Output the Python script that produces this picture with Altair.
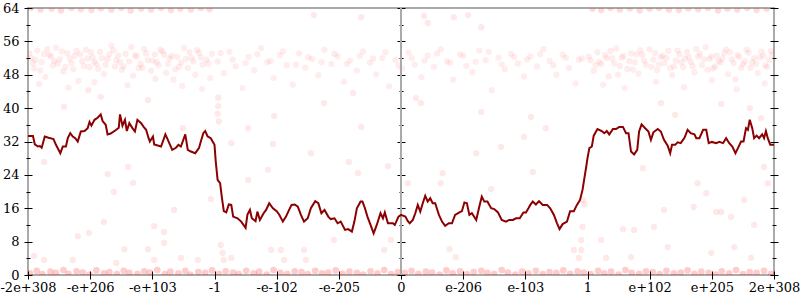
import json
import altair as alt
import pandas as pd

# ---------------- data ----------------
x_ticks = [-6, -5, -4, -3, -2, -1, 0, 1, 2, 3, 4, 5, 6]
x_labels = ["-2e+308", "-e+206", "-e+103", "-1", "-e-102", "-e-205", "0",
            "e-206", "e-103", "1", "e+102", "e+205", "2e+308"]
y_major = [0, 8, 16, 24, 32, 40, 48, 56, 64]
y_minor = [4, 12, 20, 28, 36, 44, 52, 60]

line_x = [-6.00,-5.92,-5.89,-5.84,-5.81,-5.78,-5.73,-5.67,-5.59,-5.55,-5.48,-5.44,-5.39,-5.36,-5.32,-5.28,-5.24,-5.20,-5.15,-5.09,
          -5.04,-5.01,-4.98,-4.93,-4.88,-4.83,-4.80,-4.75,-4.72,-4.67,-4.58,-4.54,-4.52,-4.48,-4.44,-4.41,-4.37,-4.32,-4.28,-4.24,
          -4.18,-4.14,-4.10,-4.06,-4.04,-3.99,-3.97,-3.86,-3.79,-3.75,-3.68,-3.62,-3.58,-3.54,-3.47,-3.43,-3.38,-3.31,-3.25,-3.22,
          -3.18,-3.15,-3.11,-3.06,-3.00,-2.98,-2.95,-2.91,-2.88,-2.85,-2.81,-2.77,-2.73,-2.70,-2.63,-2.57,-2.50,-2.47,-2.43,-2.40,
          -2.34,-2.31,-2.27,-2.21,-2.17,-2.12,-2.06,-2.00,-1.96,-1.90,-1.85,-1.80,-1.76,-1.71,-1.66,-1.61,-1.56,-1.50,-1.45,-1.38,
          -1.33,-1.28,-1.23,-1.17,-1.13,-1.07,-1.02,-0.97,-0.90,-0.85,-0.79,-0.75,-0.71,-0.65,-0.62,-0.58,-0.54,-0.49,-0.44,-0.39,
          -0.33,-0.29,-0.26,-0.21,-0.13,-0.10,-0.04,0.00,0.07,0.11,0.14,0.19,0.23,0.27,0.31,0.35,0.39,0.43,0.47,0.51,
          0.55,0.61,0.66,0.71,0.77,0.82,0.87,0.94,0.98,1.02,1.06,1.10,1.14,1.21,1.26,1.30,1.34,1.39,1.45,1.50,
          1.56,1.62,1.69,1.74,1.80,1.85,1.91,1.97,2.01,2.05,2.08,2.12,2.17,2.22,2.28,2.35,2.40,2.46,2.51,2.55,
          2.60,2.67,2.72,2.78,2.83,2.88,2.92,2.95,2.98,3.00,3.03,3.07,3.10,3.16,3.23,3.27,3.31,3.35,3.41,3.46,
          3.51,3.57,3.62,3.66,3.70,3.75,3.80,3.83,3.87,3.92,3.98,4.02,4.06,4.13,4.18,4.23,4.29,4.33,4.36,4.41,
          4.45,4.50,4.56,4.61,4.66,4.72,4.75,4.80,4.86,4.91,4.95,5.00,5.07,5.12,5.18,5.23,5.28,5.33,5.38,5.42,
          5.47,5.51,5.55,5.58,5.61,5.65,5.68,5.72,5.76,5.81,5.84,5.87,5.90,5.94,6.00]
line_y = [33.3,33.3,31.3,30.8,30.9,30.5,33.2,32.9,32.6,31.2,29.2,30.8,30.8,32.8,34.0,33.2,32.8,32.0,34.4,34.5,
          35.2,36.7,35.8,37.2,37.7,38.5,36.9,36.0,33.7,33.9,34.8,35.3,38.5,35.8,37.2,34.5,36.4,35.2,34.4,37.2,
          36.4,35.5,34.8,32.8,32.0,33.2,31.3,30.8,33.7,32.4,30.0,30.5,31.2,30.8,33.7,30.0,29.6,29.2,30.4,32.0,
          34.0,34.5,33.2,32.8,31.2,27.2,22.8,22.0,18.4,15.3,15.0,16.9,16.8,14.0,13.6,12.8,11.3,14.5,15.6,13.6,
          12.9,15.2,13.2,14.8,15.6,17.2,16.0,15.3,14.5,12.8,14.0,15.6,16.8,16.9,16.4,14.4,12.8,13.6,16.0,17.7,
          17.2,14.8,15.6,14.0,13.4,13.6,12.4,12.8,10.8,11.0,10.4,12.8,16.0,17.6,17.6,16.0,14.0,12.0,10.0,12.0,
          14.8,13.6,15.0,12.4,12.4,12.0,14.0,14.4,14.0,12.9,12.4,13.2,14.8,16.8,15.2,17.2,19.0,17.6,18.4,17.2,
          17.2,14.4,12.8,11.8,12.4,12.4,14.4,15.0,15.3,17.4,17.2,14.4,14.8,13.2,16.4,18.8,17.6,17.6,16.0,15.8,
          15.0,13.2,12.8,13.2,13.2,13.6,13.6,15.0,15.0,16.0,16.8,17.6,16.9,17.7,16.8,16.8,16.0,14.4,12.4,11.0,
          12.2,12.8,15.3,15.3,16.8,18.0,20.4,23.2,26.0,28.0,30.4,30.8,33.4,35.0,34.5,34.0,34.5,33.7,35.0,35.0,
          35.5,35.5,34.0,34.0,29.6,28.9,30.0,34.4,36.1,35.3,34.4,32.4,34.2,35.0,34.4,32.4,31.0,29.2,31.2,31.2,
          31.8,31.6,32.9,34.8,34.0,33.7,32.8,32.8,34.8,34.8,31.6,31.9,31.6,31.9,31.6,32.8,31.6,30.8,29.2,30.4,
          32.0,32.0,35.2,34.8,37.2,35.2,32.8,33.4,32.8,33.7,32.8,34.5,32.8,31.2,31.2]

# bottom band of error points (near 0 bits)
bot_x = [-5.97,-5.86,-5.77,-5.64,-5.55,-5.43,-5.35,-5.22,-5.12,-5.01,-4.90,-4.78,-4.69,-4.57,-4.46,-4.37,-4.24,-4.13,-4.04,-3.92,
         -3.80,-3.71,-3.58,-3.47,-3.39,-3.26,-3.15,-3.04,-2.93,-2.82,-2.70,-2.61,-2.49,-2.37,-2.28,-2.16,-2.05,-1.94,-1.83,-1.71,
         -1.60,-1.50,-1.38,-1.27,-1.17,-1.05,-0.94,-0.83,-0.71,-0.61,-0.49,-0.38,-0.27,-0.16,-0.05,0.06,0.17,0.28,0.40,0.50,
         0.62,0.73,0.83,0.95,1.06,1.17,1.29,1.39,1.50,1.62,1.72,1.84,1.95,2.05,2.17,2.28,2.39,2.50,2.61,2.72,
         2.84,2.94,3.05,3.17,3.27,3.38,3.50,3.61,3.71,3.83,3.94,4.05,4.16,4.27,4.39,4.50,4.61,4.72,4.83,4.95,
         5.06,5.16,5.28,5.39,5.50,5.61,5.72,5.84,5.95]
bot_y = [0.4,1.0,0.2,0.8,0.5,1.2,0.3,0.9,0.6,0.1,1.1,0.4,0.7,0.2,1.0,0.5,0.3,0.9,0.6,1.2,
         0.2,0.8,0.4,1.0,0.1,0.7,0.5,1.1,0.3,0.9,0.6,0.2,1.0,0.4,0.8,0.1,1.2,0.5,0.3,0.9,
         0.7,0.2,1.0,0.4,0.6,1.1,0.3,0.8,0.5,0.1,0.9,0.4,1.2,0.2,0.7,0.5,1.0,0.3,0.8,0.6,
         0.1,1.1,0.4,0.9,0.2,0.7,1.0,0.5,0.3,1.2,0.6,0.1,0.8,0.4,1.0,0.2,0.7,0.5,1.1,0.3,
         0.9,0.6,0.2,1.0,0.4,0.8,0.1,1.2,0.5,0.3,0.9,0.7,0.2,1.0,0.4,0.6,1.1,0.3,0.8,0.5,
         0.1,0.9,0.4,1.2,0.2,0.7,0.5,1.0,0.3]

# top band (64 bits) on the outer ranges
top_x = [-5.95,-5.80,-5.62,-5.47,-5.30,-5.15,-4.98,-4.83,-4.66,-4.50,-4.35,-4.18,-4.02,-3.86,-3.70,-3.55,-3.38,-3.22,-3.08,
         3.08,3.22,3.37,3.52,3.68,3.84,4.00,4.15,4.31,4.47,4.62,4.78,4.94,5.10,5.25,5.41,5.57,5.72,5.88]
top_y = [64.0,63.6,63.8,63.4,64.0,63.7,63.5,63.9,63.6,64.0,63.4,63.8,63.6,64.0,63.5,63.8,63.6,64.0,63.7,
         63.8,63.5,64.0,63.6,63.9,63.4,63.8,64.0,63.6,63.5,63.9,63.7,64.0,63.4,63.8,63.6,64.0,63.5,63.8]

# band around 52 bits
mid_x = [-5.95,-5.90,-5.85,-5.78,-5.72,-5.66,-5.60,-5.55,-5.49,-5.43,-5.37,-5.30,-5.25,-5.19,-5.13,-5.07,-5.01,-4.96,-4.90,-4.84,
         -4.78,-4.72,-4.66,-4.60,-4.55,-4.49,-4.43,-4.37,-4.31,-4.25,-4.19,-4.13,-4.07,-4.02,-3.96,-3.90,-3.84,-3.78,-3.72,-3.66,
         -3.60,-3.54,-3.49,-3.43,-3.37,-3.31,-3.25,-3.19,-3.13,-3.07,
         -5.92,-5.74,-5.58,-5.40,-5.22,-5.04,-4.87,-4.69,-4.52,-4.34,-4.16,-3.99,-3.81,-3.63,-3.46,-3.28,-3.10,-5.82,-5.35,-4.93,
         -4.40,-3.95,-3.52,-3.20,
         -5.98,-5.88,-5.80,-5.69,-5.63,-5.52,-5.46,-5.33,-5.27,-5.16,-5.10,-4.99,-4.93,-4.81,-4.75,-4.63,-4.58,-4.46,-4.28,-4.22,
         -4.10,-3.93,-3.87,-3.75,-3.69,-3.57,-3.40,-3.34,-3.22,-3.04,
         3.05,3.10,3.16,3.22,3.28,3.34,3.40,3.46,3.52,3.58,3.64,3.70,3.76,3.82,3.88,3.94,4.00,4.06,4.12,4.18,
         4.24,4.30,4.36,4.42,4.48,4.54,4.60,4.66,4.72,4.78,4.84,4.90,4.96,5.02,5.08,5.14,5.20,5.26,5.32,5.38,
         5.44,5.50,5.56,5.62,5.68,5.74,5.80,5.86,5.92,5.97,
         3.13,3.31,3.49,3.67,3.85,4.03,4.21,4.39,4.57,4.75,4.93,5.11,5.29,5.47,5.65,5.83,3.25,3.60,4.10,4.55,
         5.00,5.40,5.85,
         3.02,3.19,3.37,3.43,3.55,3.73,3.79,3.91,4.09,4.15,4.27,4.33,4.45,4.51,4.63,4.69,4.81,4.87,4.99,5.05,
         5.17,5.23,5.35,5.41,5.53,5.59,5.71,5.77,5.89,5.95,
         -2.95,-2.85,-2.76,-2.66,-2.55,-2.45,-2.36,-2.25,-2.15,-2.05,-1.95,-1.84,-1.74,-1.64,-1.54,-1.43,-1.33,-1.23,-1.12,-1.02,
         -0.92,-0.82,-0.71,-0.61,-0.50,-0.40,-0.30,-0.19,-0.09,0.02,0.12,0.22,0.33,0.43,0.53,0.64,0.74,0.84,0.95,1.05,
         1.15,1.26,1.36,1.46,1.57,1.67,1.77,1.88,1.98,2.08,2.19,2.29,2.39,2.50,2.60,2.70,2.81,2.91,
         -2.90,-2.71,-2.50,-2.31,-2.10,-1.90,-1.69,-1.49,-1.28,-1.07,-0.87,-0.66,-0.45,-0.25,-0.04,0.17,0.38,0.58,0.79,1.00,
         1.20,1.41,1.62,1.82,2.03,2.24,2.45,2.65,2.86]
mid_y = [52.0,49.5,53.8,51.0,47.5,52.8,50.2,54.5,51.7,48.8,53.2,50.8,52.5,46.5,51.3,54.0,49.8,52.2,50.5,53.5,
         48.2,51.8,55.0,50.0,52.6,49.2,53.0,51.2,47.8,52.4,50.6,54.2,51.5,49.0,52.9,50.3,53.6,48.5,51.9,46.8,
         52.3,50.9,54.4,49.6,52.1,48.0,53.3,50.4,51.6,47.2,
         50.8,53.0,51.3,49.9,53.7,51.9,49.4,52.9,51.0,54.6,49.7,51.4,52.8,49.3,51.8,53.9,50.7,45.8,44.9,46.2,
         45.5,47.0,45.3,44.6,
         53.1,51.6,49.0,54.2,52.4,50.7,53.6,51.9,49.3,52.9,50.1,53.4,51.1,52.0,50.4,53.9,51.5,50.0,52.7,49.6,
         53.1,51.0,54.0,50.6,52.5,49.9,53.4,51.2,52.2,53.0,
         51.5,48.9,53.4,50.6,52.7,47.6,51.9,54.3,50.1,52.5,49.4,53.1,51.0,48.3,52.8,50.4,54.1,51.6,49.1,52.2,
         50.8,53.7,47.9,51.4,52.9,49.8,53.5,51.1,48.6,52.4,50.3,54.6,51.8,49.5,52.6,50.9,53.2,48.1,51.7,46.9,
         52.3,50.5,54.0,49.7,52.0,48.4,53.6,50.2,51.5,52.8,
         50.3,52.0,48.0,51.3,53.9,49.9,52.6,50.0,51.9,54.2,49.2,51.3,53.4,49.6,51.0,52.5,45.6,44.8,46.3,45.0,
         46.7,44.5,45.9,
         52.4,51.1,53.7,50.7,52.1,49.2,52.9,51.4,53.2,50.5,52.0,49.6,53.8,51.0,52.2,50.1,53.0,51.7,52.4,50.0,
         51.9,54.1,50.8,52.7,51.2,53.3,50.6,52.2,49.9,53.7,
         51.2,48.4,53.5,50.0,44.8,52.3,49.1,54.4,51.0,47.2,52.7,50.3,45.6,53.1,49.7,51.8,47.9,54.0,50.6,52.4,
         46.3,51.4,49.0,53.6,50.9,48.1,52.0,45.2,51.6,49.5,53.3,50.4,47.4,52.6,49.9,54.1,51.2,46.8,52.9,50.1,
         48.6,53.8,51.5,44.3,52.1,49.3,53.0,50.7,47.6,52.4,50.0,54.2,51.3,48.0,52.8,49.6,45.9,51.9,
         53.2,51.6,50.8,52.9,51.3,53.6,50.4,52.2,51.0,53.0,50.6,52.5,51.9,53.4,50.2,52.0,51.4,53.1,50.9,52.6,
         51.1,53.5,50.5,52.3,51.7,53.0,50.3,52.1,51.6]

# sparse scattered points
sc_x = [-1.40,-0.64,-2.94,-2.94,-2.95,-2.93,-0.64,-2.04,-2.46,-3.51,-5.42,-2.73,-2.06,-1.24,-0.77,-5.03,-4.83,-4.07,
        0.37,0.43,0.85,1.08,1.29,0.24,0.32,1.29,2.09,2.33,4.18,4.41,5.15,5.61,5.79,1.61,1.98,
        -5.74,-4.72,-4.39,-4.31,-4.62,-3.65,-4.78,-5.20,-5.02,-3.97,-3.81,-3.81,-4.07,-4.45,-5.90,-5.74,-5.28,-4.58,-3.97,
        -3.54,-3.27,-3.06,-2.90,-2.87,-2.85,-2.73,-2.46,-2.14,-2.09,-1.93,-1.88,-1.56,-1.53,-1.45,-1.08,-0.84,-0.69,-0.21,
        -0.27,-0.16,0.11,0.64,0.67,0.78,0.88,1.21,1.45,2.12,2.90,2.90,2.86,2.78,2.92,3.22,3.30,3.57,3.75,3.70,3.89,
        4.07,4.23,4.29,4.71,4.77,4.91,4.99,5.07,5.15,5.31,5.52,5.36,5.63,5.84,5.68,5.90,2.92,2.95]
sc_y = [62.3,61.8,42.5,40.5,38.7,36.8,35.5,38.1,35.2,35.2,40.3,31.6,31.4,41.2,43.6,44.3,42.7,41.9,
        62.1,60.4,61.8,62.3,59.4,42.4,41.2,39.1,37.9,35.2,41.2,38.4,41.0,40.0,37.6,30.7,33.1,
        27.1,24.2,25.9,22.1,19.9,15.6,12.7,9.3,10.1,11.7,10.3,7.7,6.2,6.2,4.6,3.6,3.6,2.9,3.6,
        4.1,3.6,18.2,7.2,5.3,3.6,4.1,22.8,25.2,6.0,6.0,3.6,6.0,3.6,29.2,8.4,27.1,24.4,26.1,
        6.0,8.4,22.0,22.0,24.4,6.2,4.3,29.2,20.6,24.7,8.4,6.0,4.1,6.0,11.5,8.4,4.1,11.0,10.8,4.3,25.6,
        11.5,15.6,6.7,16.3,22.0,19.6,5.3,15.1,15.1,13.9,18.0,6.7,4.1,25.9,12.0,22.0,18.0,17.0]

# ---------------- chart ----------------
FONT = "DejaVu Serif"
xscale = alt.Scale(domain=[-6, 6], nice=False, zero=False)
yscale = alt.Scale(domain=[0, 64], nice=False, zero=False)
label_expr = json.dumps(x_labels) + "[round(datum.value) + 6]"


def yaxis(orient, offset, size, values, labels=False):
    kw = dict(orient=orient, offset=offset, tickSize=size, values=values,
              labels=labels, domain=False, grid=False, title=None,
              tickColor="black", tickWidth=1)
    if labels:
        kw.update(labelFont=FONT, labelFontSize=13, labelColor="black",
                  labelPadding=5)
    return alt.Axis(**kw)


def xenc():
    # identical axis definition in every layer so they merge into one shared axis
    return alt.X("x:Q", scale=xscale, axis=alt.Axis(
        orient="bottom", values=x_ticks, labelExpr=label_expr,
        offset=-4, tickSize=8, domain=False, grid=False, title=None,
        tickColor="black", tickWidth=1, labelFont=FONT,
        labelFontSize=13, labelColor="black", labelPadding=2,
        labelOverlap=False, labelFlush=False))


def df(xs, ys):
    n = min(len(xs), len(ys))
    return pd.DataFrame({"x": list(xs)[:n], "y": list(ys)[:n]})


scatter = alt.Chart(df(sc_x, sc_y)).mark_circle(
    size=40, color="#ff0000", opacity=0.09, clip=True).encode(
    x=xenc(),
    y=alt.Y("y:Q", scale=yscale, axis=yaxis("left", -4, 8, y_major, True)))

mid = alt.Chart(df(mid_x, mid_y)).mark_circle(
    size=40, color="#ff0000", opacity=0.07, clip=True).encode(
    x=xenc(),
    y=alt.Y("y:Q", scale=yscale, axis=yaxis("left", -2, 4, y_minor)))

top = alt.Chart(df(top_x, top_y)).mark_circle(
    size=40, color="#ff0000", opacity=0.14, clip=True).encode(
    x=xenc(),
    y=alt.Y("y:Q", scale=yscale, axis=yaxis("right", -4, 8, y_major)))

bottom = alt.Chart(df(bot_x, bot_y)).mark_circle(
    size=45, color="#ff0000", opacity=0.2, clip=True).encode(
    x=xenc(),
    y=alt.Y("y:Q", scale=yscale, axis=yaxis("right", -2, 4, y_minor)))

rule = alt.Chart(pd.DataFrame({"x": [0], "y0": [0], "y1": [64]})).mark_rule(
    color="#aaaaaa", strokeWidth=2).encode(
    x=xenc(),
    y=alt.Y("y0:Q", scale=yscale, axis=yaxis("left", -377, 8, y_major)),
    y2="y1:Q")

line = alt.Chart(df(line_x, line_y)).mark_line(
    color="#8b0000", strokeWidth=2).encode(
    x=xenc(),
    y=alt.Y("y:Q", scale=yscale, axis=yaxis("left", -375, 4, y_minor)))

chart = alt.layer(scatter, mid, top, bottom, rule, line).resolve_axis(
    y="independent", x="shared").properties(
    width=746, height=267,
    autosize=alt.AutoSizeParams(type="none"),
    padding={"left": 28, "top": 8, "right": 26, "bottom": 25},
    background="white",
).configure_view(stroke="#aaaaaa", strokeWidth=2)

chart.save("out.html", embed_options={"renderer": "svg", "actions": False})
